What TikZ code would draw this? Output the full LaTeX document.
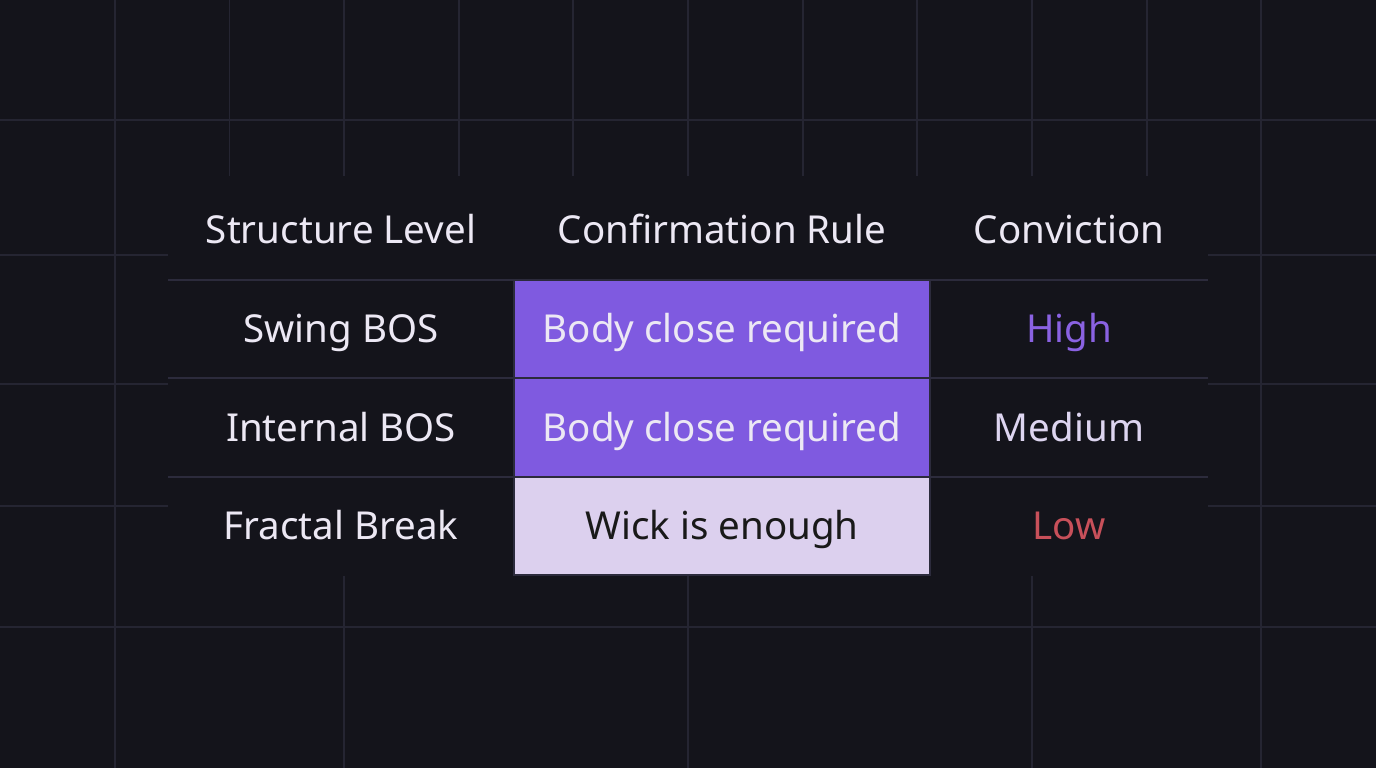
\documentclass[tikz,border=0pt]{standalone}
\usepackage{fontspec}
\setmainfont{Noto Sans}
\definecolor{bg}{HTML}{14141B}
\definecolor{gridc}{HTML}{252532}
\definecolor{rule}{HTML}{2C2B3C}
\definecolor{purp}{HTML}{7F5AE0}
\definecolor{lav}{HTML}{DCD0EE}
\definecolor{txt}{HTML}{ECE8F4}
\definecolor{hi}{HTML}{8A62E2}
\definecolor{med}{HTML}{DDD5F0}
\definecolor{low}{HTML}{C8505A}
\tikzset{
  cell/.style={font=\fontsize{38.5}{44}\selectfont, text=txt, anchor=base},
  fillcell/.style={draw=rule, line width=1.5pt},
  gridline/.style={gridc, line width=1.2pt},
}
\begin{document}
\begin{tikzpicture}[x=1pt,y=-1pt]
\fill[bg] (0,0) rectangle (1376,768);
\useasboundingbox (0,0) rectangle (1376,768);
\foreach \x in {229.5,459,573,803,917,1147}
  \draw[gridline] (\x,0) -- (\x,560);
\foreach \x in {115,344,688,1032,1261}
  \draw[gridline] (\x,0) -- (\x,768);
\foreach \y in {120,255,384,506,627}
  \draw[gridline] (0,\y) -- (1376,\y);
% table background
\fill[bg] (168,176) rectangle (1208,576);
% colored cells
\filldraw[fill=purp, fillcell] (514,280) rectangle (930,378);
\filldraw[fill=purp, fillcell] (514,378) rectangle (930,477);
\filldraw[fill=lav, fillcell] (514,477) rectangle (930,575);
% row rules
\foreach \y in {280,378,477}
  \draw[rule, line width=1.5pt] (168,\y) -- (1208,\y);
% header
\node[cell] (h1) at (341,243) {Structure Level};
\node[cell] (h2) at (722,243) {Confirmation Rule};
\node[cell] (h3) at (1069,243) {Conviction};
% rows
\node[cell] (a1) at (341,342) {Swing BOS};
\node[cell] (b1) at (722,342) {Body close required};
\node[cell, text=hi] (c1) at (1069,342) {High};
\node[cell] (a2) at (341,441) {Internal BOS};
\node[cell] (b2) at (722,441) {Body close required};
\node[cell, text=med] (c2) at (1069,441) {Medium};
\node[cell] (a3) at (341,539) {Fractal Break};
\node[cell, text=black!90] (b3) at (722,539) {Wick is enough};
\node[cell, text=low] (c3) at (1069,539) {Low};
\end{tikzpicture}
\end{document}
